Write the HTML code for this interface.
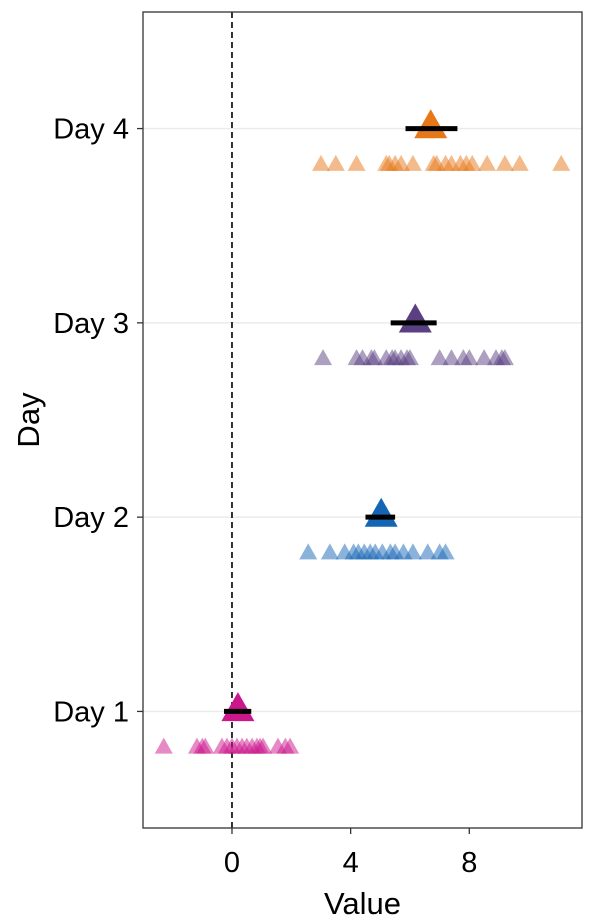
<!DOCTYPE html>
<html><head><meta charset="utf-8"><style>
html,body{margin:0;padding:0;background:#fff;}
svg{display:block;font-family:"Liberation Sans",Arial,sans-serif;}
</style></head><body>
<svg id="chart" width="595" height="921" viewBox="0 0 595 921" xmlns="http://www.w3.org/2000/svg"></svg>
<script>
const days = ["Day 1","Day 2","Day 3","Day 4"];
const colors = ["#CC168B","#1565B5","#5A3F82","#E87817"];
const day1Values = [-2.3,-1.18,-1.0,-0.9,-0.34,-0.17,0,0.17,0.34,0.5,0.68,0.84,0.95,1.05,1.55,1.8,1.96];
const day2Values = [2.57,3.3,3.8,4.1,4.26,4.46,4.66,4.83,5.07,5.34,5.5,5.78,6.1,6.6,7.0,7.2];
const day3Values = [3.07,4.2,4.4,4.7,4.8,5.2,5.4,5.5,5.7,5.9,6.0,7.0,7.4,7.8,8.0,8.5,8.9,9.1,9.2];
const day4Values = [3.0,3.5,4.2,5.2,5.3,5.5,5.7,6.1,6.8,6.9,7.2,7.4,7.7,7.9,8.1,8.6,9.2,9.7,11.1];
const means = [0.2,5.03,6.18,6.7];
const errLow = [-0.27,4.5,5.35,5.85];
const errHigh = [0.65,5.5,6.9,7.6];
const xTicks = [0,4,8];
const allValues = [day1Values,day2Values,day3Values,day4Values];

const NS="http://www.w3.org/2000/svg";
const svg=document.getElementById('chart');
const L=143,R=582,T=12,B=828;
const xMin=-3.0,xMax=11.8,yMin=0.4,yMax=4.6;
const xs=v=>L+(v-xMin)/(xMax-xMin)*(R-L);
const ys=v=>B-(v-yMin)/(yMax-yMin)*(B-T);
function el(tag,attrs){const e=document.createElementNS(NS,tag);for(const k in attrs)e.setAttribute(k,attrs[k]);svg.appendChild(e);return e;}
function tri(cx,cy,w,h){return `${cx-w/2},${cy+h/3} ${cx+w/2},${cy+h/3} ${cx},${cy-2*h/3}`;}

days.forEach((d,i)=>{
  const g=el('line',{x1:L,x2:R,y1:ys(i+1),y2:ys(i+1),stroke:'#ebebeb','stroke-width':1.5});
  
  
});
const z=el('line',{x1:xs(0),x2:xs(0),y1:T,y2:B,stroke:'#000','stroke-width':1.6,'stroke-dasharray':'6,4'});



allValues.forEach((vals,i)=>{
  vals.forEach((v,j)=>{
    const p=el('polygon',{points:tri(xs(v),ys(i+1-0.19),18,16),fill:colors[i],'fill-opacity':0.5});
    
    
  });
  const m=el('polygon',{points:tri(xs(means[i]),ys(i+1),33,29),fill:colors[i]});
  
  
  const e=el('line',{x1:xs(errLow[i]),x2:xs(errHigh[i]),y1:ys(i+1),y2:ys(i+1),stroke:'#000','stroke-width':5});
  
  
});

const pb=el('rect',{x:L,y:T,width:R-L,height:B-T,fill:'none',stroke:'#333','stroke-width':1.3});



days.forEach((d,i)=>{
  const t=el('line',{x1:L-6,x2:L,y1:ys(i+1),y2:ys(i+1),stroke:'#333','stroke-width':1.3});
  
  
  const tx=el('text',{x:L-14,y:ys(i+1)+10,'text-anchor':'end','font-size':29,fill:'#000'});
  tx.textContent=d;
  
  
});
xTicks.forEach(v=>{
  const t=el('line',{x1:xs(v),x2:xs(v),y1:B,y2:B+6,stroke:'#333','stroke-width':1.3});
  
  
  const tx=el('text',{x:xs(v),y:B+44,'text-anchor':'middle','font-size':29,fill:'#000'});
  tx.textContent=v;
  
  
});
const xt=el('text',{x:(L+R)/2,y:914,'text-anchor':'middle','font-size':31,fill:'#000'});
xt.textContent='Value';


const yt=el('text',{x:0,y:0,'text-anchor':'middle','font-size':31,fill:'#000',transform:`translate(39,${(T+B)/2}) rotate(-90)`});
yt.textContent='Day';


</script>
</body></html>
